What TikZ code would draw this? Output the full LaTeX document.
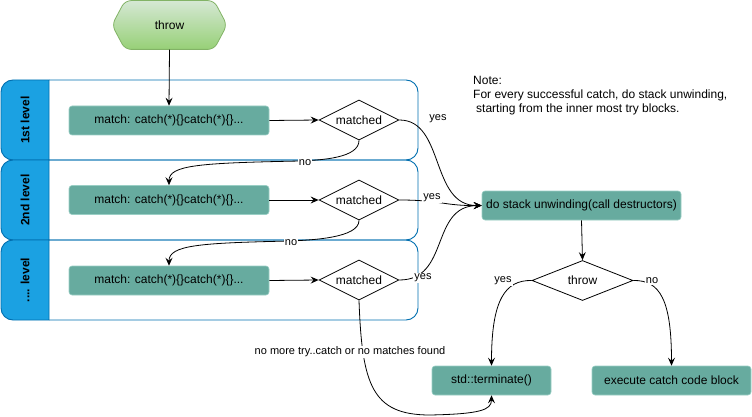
\documentclass[tikz,border=0pt]{standalone}
\usepackage{fontspec}
\setmainfont{Liberation Sans}
\usetikzlibrary{arrows.meta,shapes.geometric}

\definecolor{boxfill}{HTML}{67AB9F}
\definecolor{boxline}{HTML}{9ACFC5}
\definecolor{lanefill}{HTML}{1BA1E2}
\definecolor{laneline}{HTML}{006EAF}
\definecolor{hextop}{HTML}{D5E8D4}
\definecolor{hexbot}{HTML}{97D077}
\definecolor{hexline}{HTML}{82B366}

\begin{document}
\begin{tikzpicture}[x=1pt,y=1pt,
  every node/.style={font=\fontsize{12}{14}\selectfont},
  lbl/.style={font=\fontsize{11}{13}\selectfont, fill=white, inner sep=1pt},
  plainlbl/.style={font=\fontsize{11}{13}\selectfont, inner sep=1pt},
  procbox/.style={draw=boxline, fill=boxfill, rounded corners=3pt, minimum height=29pt, line width=0.6pt, inner sep=0pt},
  decision/.style={diamond, draw=black, fill=white, aspect=2, inner sep=0pt, minimum width=80pt, minimum height=40pt, line width=0.8pt},
  flow/.style={draw=black, line width=0.8pt, -{Stealth[length=8pt,width=7pt,inset=3pt]}},
  lanebody/.style={draw=laneline, line width=0.9pt},
  lanehead/.style={draw=laneline, fill=lanefill, line width=0.9pt},
  lanetitle/.style={rotate=90, font=\bfseries\fontsize{12}{14}\selectfont}
]
\useasboundingbox (0,0) rectangle (752,-417);

% swimlanes: white body with rounded right side, blue header with rounded left side
\foreach \top in {80,160,240}{
  \draw[lanebody] (49,-\top) -- ++(357,0) arc[start angle=90,end angle=0,radius=12]
        -- ++(0,-56) arc[start angle=0,end angle=-90,radius=12] -- ++(-357,0);
  \filldraw[lanehead] (49,-\top) -- ++(-36,0) arc[start angle=90,end angle=180,radius=12]
        -- ++(0,-56) arc[start angle=180,end angle=270,radius=12] -- ++(36,0) -- cycle;
}
\node[lanetitle] (lane1) at (25,-120) {1st level};
\node[lanetitle] (lane2) at (25,-200) {2nd level};
\node[lanetitle] (lane3) at (25,-280) {.... level};

% start: hexagon "throw"
\path[top color=hextop, bottom color=hexbot, draw=hexline, line width=0.8pt, rounded corners=6pt]
  (112,-25) -- (125,-0.6) -- (214,-0.6) -- (227,-25) -- (214,-49.4) -- (125,-49.4) -- cycle;
\node[minimum width=115pt, minimum height=49pt, inner sep=0pt] (start) at (169.5,-25) {throw};

% matching steps per level
\node[procbox, minimum width=200pt] (m1) at (169,-120.5) {match: catch(*)\{\}catch(*)\{\}...};
\node[procbox, minimum width=200pt] (m2) at (169,-200) {match: catch(*)\{\}catch(*)\{\}...};
\node[procbox, minimum width=200pt] (m3) at (169,-280.5) {match: catch(*)\{\}catch(*)\{\}...};

\node[decision] (d1) at (359,-120) {matched};
\node[decision] (d2) at (359,-200) {matched};
\node[decision] (d3) at (359,-280) {matched};

% outcome
\node[procbox, minimum width=199pt] (unwind) at (581.5,-205.5) {do stack unwinding(call destructors)};
\node[decision, minimum width=101pt] (rethrow) at (582.5,-280.5) {throw};
\node[procbox, minimum width=119pt] (term) at (491.5,-380.5) {std::terminate()};
\node[procbox, minimum width=159pt] (exec) at (671.5,-380.5) {execute catch code block};

\node[anchor=north west, align=left, inner sep=0pt] (note) at (473,-76)
  {Note:\\For every successful catch, do stack unwinding,\\\hspace{3pt}starting from the inner most try blocks.};

% connectors
\draw[flow] (start.south) -- (m1.north);
\draw[flow] (m1.east) -- (d1.west);
\draw[flow] (m2.east) -- (d2.west);
\draw[flow] (m3.east) -- (d3.west);

\draw[flow] (d1.south) .. controls (359,-158) and (322,-160) .. (300,-161)
  .. controls (200,-163) and (169,-165) .. (m2.north);
\draw[flow] (d2.south) .. controls (359,-238) and (312,-240) .. (290,-241)
  .. controls (200,-243) and (169,-245) .. (m3.north);

\draw[flow] (d1.east) .. controls (445,-120) and (430,-206) .. (unwind.west);
\draw[flow] (d2.east) .. controls (440,-200) and (445,-206) .. (unwind.west);
\draw[flow] (d3.east) .. controls (450,-280) and (430,-206) .. (unwind.west);

\draw[flow] (d3.south) .. controls (362,-385) and (372,-415) .. (430,-415)
  .. controls (480,-414) and (491.5,-410) .. (term.south);

\draw[flow] (unwind.south) -- (rethrow.north);
\draw[flow] (rethrow.west) .. controls (505,-280) and (491.5,-300) .. (term.north);
\draw[flow] (rethrow.east) .. controls (660,-280) and (671.5,-300) .. (exec.north);

% connector labels
\node[plainlbl] (y1) at (438,-119) {yes};
\node[lbl] (y2) at (432,-198) {yes};
\node[lbl] (y3) at (423,-278) {yes};
\node[lbl] (n1) at (305,-163) {no};
\node[lbl] (n2) at (291,-243) {no};
\node[lbl] (nomore) at (350,-352) {no more try..catch or no matches found};
\node[lbl] (ty) at (503,-281) {yes};
\node[lbl] (tn) at (652,-281) {no};
\end{tikzpicture}
\end{document}
